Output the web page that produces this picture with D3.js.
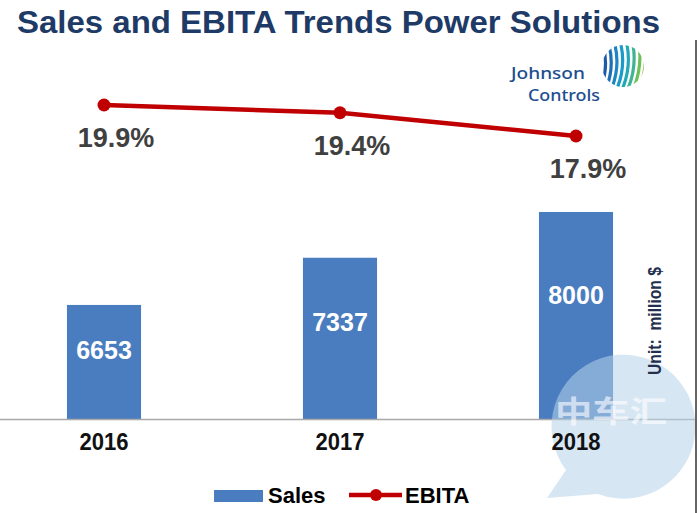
<!DOCTYPE html>
<html><head><meta charset="utf-8">
<script src="https://cdn.jsdelivr.net/npm/d3@7"></script>
<style>
html,body{margin:0;padding:0;background:#fff;}
svg{display:block;font-family:"Liberation Sans",Arial,sans-serif;}
</style></head>
<body>
<svg id="chart" width="700" height="513"></svg>
<script>
const years = ["2016", "2017", "2018"];
const sales = [6653, 7337, 8000];
const ebita = [19.9, 19.4, 17.9];
const ebitaLabels = ["19.9%", "19.4%", "17.9%"];
const title = "Sales and EBITA Trends Power Solutions";
const unitLabel = "Unit:  million $";
const legendItems = ["Sales", "EBITA"];

const svg = d3.select("#chart");
const barColor = "#4a7dc0", lineColor = "#c00000";

// title
svg.append("text").attr("x", 17).attr("y", 33)
  .attr("font-size", 31).attr("font-weight", "bold").attr("fill", "#1e3a66")
  .attr("textLength", 643).attr("lengthAdjust", "spacingAndGlyphs")
  .text(title);

// logo
const logo = svg.append("g");
logo.append("text").attr("x", 511).attr("y", 79).attr("font-family", "'Noto Sans',sans-serif")
  .attr("font-size", 17).attr("font-weight", 500).attr("fill", "#1d4e8f")
  .attr("textLength", 74).attr("lengthAdjust", "spacingAndGlyphs").text("Johnson");
logo.append("text").attr("x", 528).attr("y", 101).attr("font-family", "'Noto Sans',sans-serif")
  .attr("font-size", 17).attr("font-weight", 500).attr("fill", "#1d4e8f")
  .attr("textLength", 72).attr("lengthAdjust", "spacingAndGlyphs").text("Controls");
const defs = svg.append("defs");
defs.append("clipPath").attr("id", "logoClip").append("circle").attr("cx", 623).attr("cy", 66).attr("r", 21);
const lg = logo.append("g").attr("clip-path", "url(#logoClip)");
const stripeCols = ["#1f5aa6", "#1f6fb5", "#1c86c2", "#1a9cc9", "#22a9b8", "#3fb393", "#6cbf5a", "#8cc63f"];
stripeCols.forEach((c, i) => {
  const x0 = 600 + i * 5.5;
  lg.append("path")
    .attr("d", `M${x0},90 Q${x0 + 10},66 ${x0 + 2 + i * 0.6},42`)
    .attr("fill", "none").attr("stroke", c).attr("stroke-width", 3.2);
});

// scales
const x = d3.scaleBand().domain(years).range([-14, 694]).paddingInner(0.686).paddingOuter(0.343);
const y = d3.scaleLinear().domain([5000, 8000]).range([419, 212]);
const ye = d3.scaleLinear().domain([17.9, 19.9]).range([136, 105]);
const cx = d => x(d) + x.bandwidth() / 2;

// bars
svg.selectAll("rect.bar").data(years).join("rect").attr("class", "bar")
  .attr("x", d => x(d)).attr("width", x.bandwidth())
  .attr("y", (d, i) => y(sales[i])).attr("height", (d, i) => y.range()[0] - y(sales[i]))
  .attr("fill", barColor);

// baseline axis
svg.append("line").attr("x1", 0).attr("x2", 695).attr("y1", 419.5).attr("y2", 419.5)
  .attr("stroke", "#a8a8a8").attr("stroke-width", 1.5);

// watermark bubble (under texts)
const wm = svg.append("g").attr("opacity", 0.55);
wm.append("path")
  .attr("d", "M566,470 A72,72 0 1,1 598,494 L547,498 Z")
  .attr("fill", "#b7d2ea");
svg.append("text").attr("x", 611).attr("y", 422).attr("text-anchor", "middle")
  .attr("font-family", "'Noto Sans CJK SC',sans-serif").attr("font-size", 30).attr("font-weight", "bold")
  .attr("fill", "#fff").attr("opacity", 0.6).attr("textLength", 112).attr("lengthAdjust", "spacingAndGlyphs")
  .text("中车汇");

svg.selectAll("text.val").data(years).join("text").attr("class", "val")
  .attr("x", d => cx(d))
  .attr("y", (d, i) => y.range()[0] - 0.6 * (y.range()[0] - y(sales[i])))
  .attr("dy", "0.35em").attr("text-anchor", "middle")
  .attr("font-size", 25).attr("font-weight", "bold").attr("fill", "#fff")
  .text((d, i) => sales[i]);

// x labels via axis
const xa = svg.append("g").attr("transform", "translate(0,419)")
  .call(d3.axisBottom(x).tickSize(0).tickPadding(15));
xa.select(".domain").remove();
xa.selectAll("text").attr("font-size", 23).attr("font-weight", "bold").attr("fill", "#111")
  .attr("font-family", "'Liberation Sans',Arial,sans-serif")
  .attr("textLength", 49).attr("lengthAdjust", "spacingAndGlyphs");

// EBITA line
const line = d3.line().x((d, i) => cx(years[i])).y(d => ye(d));
svg.append("path").datum(ebita).attr("d", line)
  .attr("fill", "none").attr("stroke", lineColor).attr("stroke-width", 4.5);
svg.selectAll("circle.pt").data(ebita).join("circle").attr("class", "pt")
  .attr("cx", (d, i) => cx(years[i])).attr("cy", d => ye(d)).attr("r", 6.5).attr("fill", lineColor);
svg.selectAll("text.pct").data(ebita).join("text").attr("class", "pct")
  .attr("x", (d, i) => cx(years[i]) + 12).attr("y", d => ye(d) + 33)
  .attr("dy", "0.35em").attr("text-anchor", "middle")
  .attr("font-size", 27).attr("font-weight", "bold").attr("fill", "#404040")
  .text((d, i) => ebitaLabels[i]);

// unit label
svg.append("text").attr("transform", "translate(661,321) rotate(-90)")
  .attr("text-anchor", "middle").attr("font-size", 19).attr("font-weight", "bold")
  .attr("fill", "#22304d").attr("xml:space", "preserve").style("white-space", "pre")
  .attr("textLength", 108).attr("lengthAdjust", "spacingAndGlyphs")
  .text(unitLabel);

// right frame line
svg.append("line").attr("x1", 696).attr("x2", 696).attr("y1", 40).attr("y2", 513)
  .attr("stroke", "#333").attr("stroke-width", 1.5);

// legend
const leg = svg.append("g");
leg.append("rect").attr("x", 214).attr("y", 490).attr("width", 49).attr("height", 12).attr("fill", barColor);
leg.append("text").attr("x", 268).attr("y", 503).attr("font-size", 22).attr("font-weight", "bold")
  .attr("fill", "#000").text(legendItems[0]);
leg.append("line").attr("x1", 349).attr("x2", 402).attr("y1", 495).attr("y2", 495)
  .attr("stroke", lineColor).attr("stroke-width", 4.5);
leg.append("circle").attr("cx", 376).attr("cy", 495).attr("r", 6).attr("fill", lineColor);
leg.append("text").attr("x", 405).attr("y", 503).attr("font-size", 22).attr("font-weight", "bold")
  .attr("fill", "#000").text(legendItems[1]);
</script>
</body></html>
